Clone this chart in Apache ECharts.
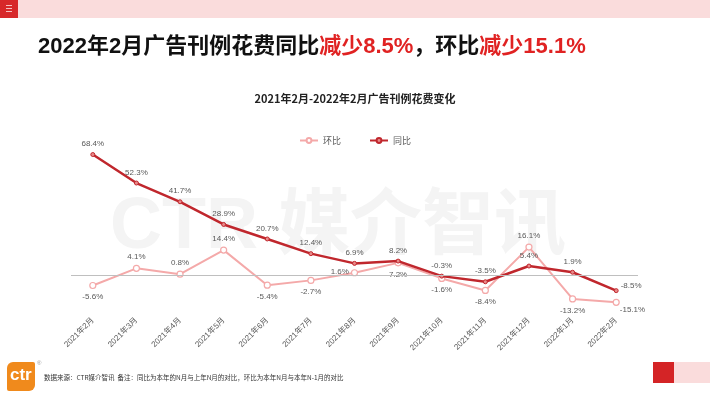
<!DOCTYPE html>
<html>
<head>
<meta charset="utf-8">
<script src="https://cdn.jsdelivr.net/npm/echarts@6/dist/echarts.min.js"></script>
<style>
  html, body { margin: 0; padding: 0; background: #fff; }
  #chart { width: 710px; height: 399px; }
</style>
</head>
<body>
<div id="chart"></div>
<script>
// 2021年2月 - 2022年2月
const months = ['2021年2月', '2021年3月', '2021年4月', '2021年5月', '2021年6月', '2021年7月', '2021年8月',
  '2021年9月', '2021年10月', '2021年11月', '2021年12月', '2022年1月', '2022年2月'];
const huanbi = [-5.6, 4.1, 0.8, 14.4, -5.4, -2.7, 1.6, 7.2, -1.6, -8.4, 16.1, -13.2, -15.1];
const tongbi = [68.4, 52.3, 41.7, 28.9, 20.7, 12.4, 6.9, 8.2, -0.3, -3.5, 5.4, 1.9, -8.5];
// where each label sits relative to its point
const huanbiLabelPos = ['bottom', 'top', 'top', 'top', 'bottom', 'bottom', 'left', 'bottom', 'bottom', 'bottom', 'top', 'bottom', 'bottomRight'];
const tongbiLabelPos = ['top', 'top', 'top', 'top', 'top', 'top', 'top', 'top', 'top', 'top', 'top', 'top', 'topRight'];

const chart = echarts.init(document.getElementById('chart'));

const labelStyle = { fontSize: 8, color: '#595959', fontFamily: 'Liberation Sans, Arial, sans-serif' };

function buildData(values, positions) {
  return values.map((v, i) => {
    const pos = positions[i];
    const item = { value: v, label: { position: pos } };
    if (pos === 'bottomRight') item.label = { position: 'right', offset: [-4, 7] };
    if (pos === 'topRight') item.label = { position: 'right', offset: [-2, -5] };
    if (pos === 'left') item.label = { position: 'left', offset: [2, -1] };
    return item;
  });
}

const option = {
  animation: false,
  title: {
    text: '{a|2022年2月广告刊例花费同比}{r|减少8.5%}{a|，环比}{r|减少15.1%}',
    left: 33,
    top: 31,
    textStyle: {
      rich: {
        a: { fontSize: 22, fontWeight: 'bold', color: '#111', fontFamily: 'Liberation Sans, "Noto Sans CJK SC"' },
        r: { fontSize: 22, fontWeight: 'bold', color: '#e02222', fontFamily: 'Liberation Sans, "Noto Sans CJK SC"' }
      }
    }
  },
  graphic: [
    { type: 'rect', left: 0, top: 0, shape: { width: 710, height: 18 }, style: { fill: '#fadcdc' }, z: 0 },
    { type: 'rect', left: 0, top: 0, shape: { width: 18, height: 18 }, style: { fill: '#d7282a' }, z: 1 },
    { type: 'rect', left: 6, top: 5, shape: { width: 6, height: 1 }, style: { fill: '#f6c0c0' }, z: 2 },
    { type: 'rect', left: 6, top: 8, shape: { width: 6, height: 1 }, style: { fill: '#f6c0c0' }, z: 2 },
    { type: 'rect', left: 6, top: 11, shape: { width: 6, height: 1 }, style: { fill: '#f6c0c0' }, z: 2 },
    {
      type: 'text', left: 'center', top: 93,
      style: { text: '2021年2月-2022年2月广告刊例花费变化', font: 'bold 11px "Noto Sans CJK SC"', fill: '#222' }
    },
    {
      type: 'text', left: 110, top: 192, z: -1,
      style: { text: 'CTR 媒介智讯', font: 'bold 72px "Liberation Sans", "Noto Sans CJK SC"', fill: '#f4f4f4' }
    },
    { type: 'rect', left: 7, top: 362, shape: { width: 28, height: 29, r: [6, 2, 6, 2] }, style: { fill: '#f08a1c' } },
    {
      type: 'text', left: 10, top: 367,
      style: { text: 'ctr', font: 'bold 17px "Liberation Sans", Arial', fill: '#fff' }
    },
    {
      type: 'text', left: 37, top: 360,
      style: { text: '®', font: '6px "Liberation Sans"', fill: '#999' }
    },
    {
      type: 'text', left: 44, top: 374,
      style: {
        text: '数据来源：CTR媒介智讯  备注：同比为本年的N月与上年N月的对比，环比为本年N月与本年N-1月的对比',
        font: '6.5px "Noto Sans CJK SC"', fill: '#333'
      }
    },
    { type: 'rect', left: 653, top: 362, shape: { width: 21, height: 21 }, style: { fill: '#d42426' } },
    { type: 'rect', left: 674, top: 362, shape: { width: 36, height: 21 }, style: { fill: '#fadcdc' } }
  ],
  legend: {
    top: 131,
    left: 'center',
    itemWidth: 18,
    itemHeight: 6,
    itemGap: 28,
    data: ['环比', '同比'],
    textStyle: { fontSize: 9, color: '#595959', fontFamily: '"Noto Sans CJK SC"' }
  },
  grid: { left: 71, right: 72, top: 134, bottom: 88 },
  xAxis: {
    type: 'category',
    data: months,
    axisLine: { show: false, onZero: false },
    axisTick: { show: false },
    axisLabel: {
      rotate: 45,
      margin: 8,
      fontSize: 8,
      color: '#595959',
      fontFamily: 'Liberation Sans, "Noto Sans CJK SC"'
    }
  },
  yAxis: {
    type: 'value',
    min: -20,
    max: 80,
    show: false,
    splitLine: { show: false }
  },
  series: [
    {
      name: '环比',
      type: 'line',
      data: buildData(huanbi, huanbiLabelPos),
      symbol: 'circle',
      symbolSize: 6,
      itemStyle: { color: '#fff', borderColor: '#f4a9a9', borderWidth: 1.2 },
      lineStyle: { color: '#f4a9a9', width: 2 },
      label: {
        show: true,
        formatter: p => p.value + '%',
        distance: 4,
        ...labelStyle
      },
      markLine: {
        silent: true,
        symbol: 'none',
        label: { show: false },
        lineStyle: { color: '#bfbfbf', width: 1, type: 'solid' },
        data: [{ yAxis: 0 }]
      },
      z: 2
    },
    {
      name: '同比',
      type: 'line',
      data: buildData(tongbi, tongbiLabelPos),
      symbol: 'circle',
      symbolSize: 4,
      itemStyle: { color: '#e88a8a', borderColor: '#c0272d', borderWidth: 1 },
      lineStyle: { color: '#c0272d', width: 2.5 },
      label: {
        show: true,
        formatter: p => p.value + '%',
        distance: 4,
        ...labelStyle
      },
      z: 3
    }
  ]
};

chart.setOption(option);
</script>
</body>
</html>
